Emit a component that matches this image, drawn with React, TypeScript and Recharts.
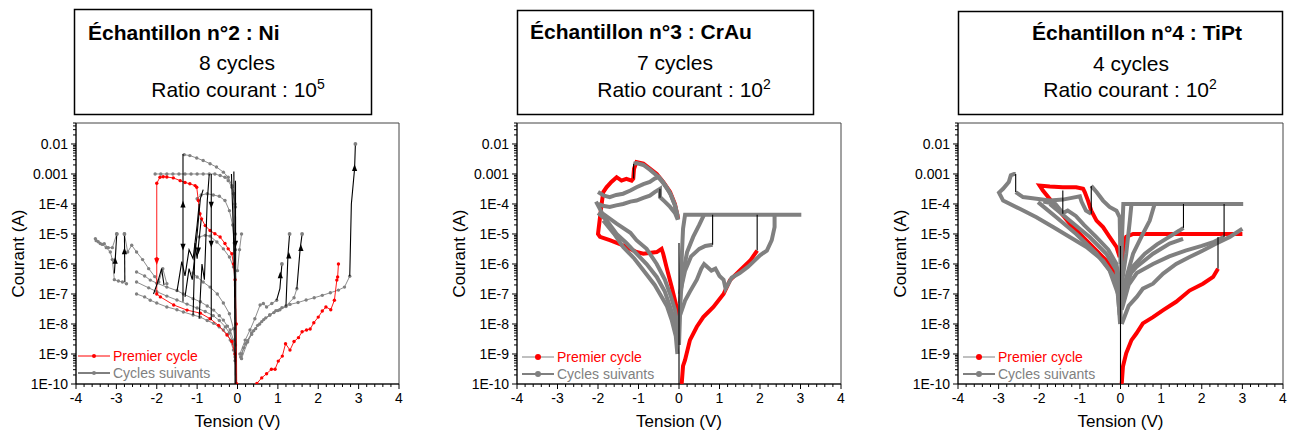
import React from 'react';
import { ScatterChart, Scatter, XAxis, YAxis, ReferenceArea, Label } from 'recharts';

type Pt = [number, number]; // [tension V, courant A]

const RED = '#ff0000';
const GREY = '#808080';
const BLACK = '#000000';
const FONT = '"Liberation Sans", Arial, sans-serif';

// axes
const X_MAJOR = [-4, -3, -2, -1, 0, 1, 2, 3, 4];
const X_LABELS = ['-4', '-3', '-2', '-1', '0', '1', '2', '3', '4'];
const Y_MAJOR = [1e-10, 1e-9, 1e-8, 1e-7, 1e-6, 1e-5, 1e-4, 1e-3, 1e-2];
const Y_LABELS = ['1E-10', '1E-9', '1E-8', '1E-7', '1E-6', '1E-5', '1E-4', '0.001', '0.01'];
const Y_DOMAIN: [number, number] = [1e-10, 0.05];

// ---------- Échantillon n°2 : Ni ----------
const niRedSet: Pt[] = [
  [0.48, 1.05e-10], [0.6, 1.6e-10], [0.72, 2.2e-10], [0.84, 3.1e-10], [0.93, 3.1e-10], [1.01, 5.8e-10],
  [1.11, 8.5e-10], [1.19, 2.2e-9], [1.3, 1.35e-9], [1.4, 2.6e-9], [1.51, 3.5e-9], [1.6, 5.5e-9],
  [1.71, 6.3e-9], [1.8, 6.8e-9], [1.89, 1.1e-8], [2.0, 1.7e-8], [2.1, 2.7e-8], [2.19, 3.7e-8],
  [2.31, 3e-8], [2.4, 6.2e-8], [2.46, 2.9e-7], [2.48, 3.7e-7], [2.5, 1e-6],
];
const niRedLoop: Pt[] = [
  [-0.02, 1e-10], [-0.03, 1e-8], [-0.06, 3e-7], [-0.1, 1e-6], [-0.14, 2.2e-6], [-0.23, 3.2e-6],
  [-0.31, 4.8e-6], [-0.43, 7.9e-6], [-0.56, 1.02e-5], [-0.68, 1.3e-5], [-0.8, 1.9e-5], [-0.89, 3.2e-5],
  [-0.93, 4.7e-5], [-0.97, 1.3e-4], [-1.01, 3.6e-4], [-1.05, 4.1e-4], [-1.18, 4.7e-4], [-1.3, 5.2e-4],
  [-1.42, 6e-4], [-1.59, 7.4e-4], [-1.75, 7.9e-4], [-1.84, 8.1e-4], [-1.92, 7.8e-4], [-2.0, 4.9e-4],
  [-2.0, 1.5e-6], [-2.0, 1e-7], [-1.91, 8e-8], [-1.58, 4.3e-8], [-1.25, 2.9e-8], [-0.92, 2.3e-8],
  [-0.68, 1.5e-8], [-0.47, 9e-9], [-0.26, 4.3e-9], [-0.14, 2.6e-9], [-0.06, 1e-9], [-0.03, 1e-10],
];
const niGreyTop: Pt[] = [
  [-2.04, 1e-3], [-1.9, 1e-3], [-1.75, 1e-3], [-1.6, 1e-3], [-1.45, 1e-3], [-1.3, 1e-3], [-1.15, 1e-3],
  [-1.0, 1e-3], [-0.85, 1e-3], [-0.7, 1e-3], [-0.56, 1e-3], [-0.43, 8.9e-4], [-0.31, 7.8e-4],
  [-0.23, 6e-4], [-0.14, 3.6e-4], [-0.1, 2.2e-4], [-0.06, 1e-4], [-0.05, 1e-5],
];
const niGreyPeak: Pt[] = [
  [-1.32, 4.4e-3], [-1.18, 4.1e-3], [-1.01, 3.4e-3], [-0.85, 2.8e-3], [-0.68, 2.2e-3], [-0.52, 1.7e-3],
  [-0.35, 1.15e-3], [-0.23, 7.8e-4], [-0.14, 4.1e-4], [-0.09, 2.2e-4], [-0.05, 8e-5], [-0.05, 3e-6],
];
const niGreyMid: Pt[] = [
  [-1.0, 1.5e-4], [-0.9, 2e-4], [-0.75, 2.2e-4], [-0.6, 2e-4], [-0.45, 1.8e-4], [-0.31, 1.3e-4],
  [-0.2, 6e-5], [-0.12, 2e-5], [-0.08, 5e-6],
];
const niGreyMid2: Pt[] = [
  [-0.95, 8e-6], [-0.8, 9e-6], [-0.68, 8.5e-6], [-0.51, 5.4e-6], [-0.35, 3.2e-6], [-0.2, 1.7e-6], [-0.1, 8e-7],
];
const niGreyLow1: Pt[] = [
  [-2.5, 5.4e-7], [-2.3, 4e-7], [-2.16, 2.9e-7], [-2.0, 2.3e-7], [-1.75, 1.7e-7], [-1.5, 1.3e-7],
  [-1.34, 1e-7], [-1.1, 7e-8], [-0.92, 5.5e-8], [-0.75, 4e-8], [-0.59, 2.9e-8], [-0.45, 1.9e-8],
  [-0.35, 1.35e-8], [-0.25, 8.5e-9], [-0.18, 6.3e-9], [-0.1, 2.9e-9], [-0.06, 1e-9],
];
const niGreyLow2: Pt[] = [
  [-2.5, 1e-7], [-2.3, 8e-8], [-2.16, 6.2e-8], [-2.0, 5e-8], [-1.75, 3.7e-8], [-1.5, 3e-8],
  [-1.34, 2.5e-8], [-1.1, 2e-8], [-0.92, 1.7e-8], [-0.75, 1.3e-8], [-0.59, 1.05e-8], [-0.45, 8e-9],
  [-0.35, 6.3e-9], [-0.25, 4.5e-9], [-0.18, 2.9e-9], [-0.1, 1.35e-9], [-0.06, 6e-10],
];
const niGreyLow3: Pt[] = [
  [-2.5, 2.5e-7], [-2.2, 1.6e-7], [-2.0, 1.2e-7], [-1.75, 8.5e-8], [-1.5, 6.3e-8], [-1.25, 4.6e-8],
  [-1.0, 3.4e-8], [-0.8, 2.6e-8], [-0.6, 1.9e-8], [-0.45, 1.3e-8], [-0.3, 8e-9], [-0.2, 5e-9],
  [-0.1, 2.2e-9], [-0.06, 8e-10],
];
const niGreyLow4: Pt[] = [
  [-1.1, 5e-7], [-1.0, 3.7e-7], [-0.85, 2.5e-7], [-0.68, 1.7e-7], [-0.5, 1e-7], [-0.35, 5e-8],
  [-0.2, 2.2e-8], [-0.1, 7e-9], [-0.05, 2e-9],
];
const niGreyFar1: Pt[] = [
  [-3.52, 7e-6], [-3.45, 5.5e-6], [-3.35, 4.5e-6], [-3.25, 3.5e-6], [-3.15, 2.5e-6], [-3.1, 1.4e-6],
  [-3.05, 3e-7], [-2.95, 2.7e-7], [-2.85, 2.5e-7], [-2.75, 2.2e-7],
];
const niGreyFar2: Pt[] = [
  [-3.5, 6e-6], [-3.4, 4.8e-6], [-3.3, 4.7e-6], [-3.2, 3.5e-6], [-3.1, 3.5e-6], [-2.99, 1e-5],
];
const niGreyFar3: Pt[] = [
  [-2.8, 1e-5], [-2.72, 2.5e-6], [-2.62, 4.2e-6], [-2.5, 2.5e-6], [-2.35, 1.4e-6], [-2.2, 7e-7],
  [-2.05, 3.8e-7], [-1.95, 2.5e-7], [-1.85, 7e-7], [-1.75, 2.2e-7],
];
const niGreyPos1: Pt[] = [
  [0.1, 1e-9], [0.15, 1.6e-9], [0.25, 2.8e-9], [0.35, 4.5e-9], [0.45, 7e-9], [0.55, 1e-8], [0.65, 1.4e-8],
  [0.8, 2e-8], [0.95, 2.8e-8], [1.1, 3.5e-8], [1.3, 4.5e-8], [1.5, 5.2e-8], [1.7, 6.3e-8], [1.9, 7.5e-8],
  [2.1, 9e-8], [2.3, 1.1e-7], [2.5, 1.35e-7], [2.65, 1.7e-7], [2.78, 3.9e-7],
];
const niGreyPos2: Pt[] = [
  [0.06, 1e-9], [0.19, 2.9e-9], [0.31, 6.3e-9], [0.43, 1.5e-8], [0.56, 4.3e-8], [0.64, 4.8e-8],
  [0.72, 3.7e-8], [0.85, 4.8e-8], [0.97, 6.2e-8],
];
const niGreyPos3: Pt[] = [
  [0.08, 8e-10], [0.2, 2.2e-9], [0.35, 5e-9], [0.5, 9e-9], [0.7, 1.6e-8], [0.9, 2.4e-8], [1.05, 3e-8], [1.2, 3.8e-8],
];
const niGreyPos4: Pt[] = [
  [0.1, 7e-10], [0.25, 2.5e-9], [0.4, 6e-9], [0.6, 1.2e-8], [0.8, 2e-8], [1.0, 2.8e-8], [1.2, 4e-8],
  [1.4, 7.5e-8], [1.47, 1.5e-7],
];
const niGreyPos5: Pt[] = [[0.0, 6e-7], [0.05, 3e-6], [0.1, 1e-5]];
const niGreyTips: Pt[] = [[2.92, 1e-2], [1.29, 1e-5], [1.6, 1e-5], [1.1, 1e-6], [-2.99, 1e-5], [-2.8, 1e-5]];
const niBlack: Pt[][] = [
  [[-3.05, 4.8e-7], [-2.99, 1e-5]],
  [[-2.79, 2.5e-7], [-2.8, 1e-5]],
  [[-1.35, 4.6e-3], [-1.35, 5.5e-8]],
  [[-0.65, 1e-3], [-0.65, 1.35e-8]],
  [[-0.04, 1e-10], [-0.05, 6e-4]],
  [[-0.06, 1e-10], [-0.09, 1.2e-3]],
  [[-1.5, 1.2e-7], [-1.38, 1.2e-6], [-1.3, 4e-7], [-1.2, 3e-6], [-1.1, 1.5e-6], [-1.0, 2e-5], [-0.95, 1e-4]],
  [[-1.3, 8e-8], [-1.2, 7e-7], [-1.12, 3e-7], [-1.0, 1e-5], [-0.92, 1.5e-4], [-0.85, 3e-4]],
  [[-1.1, 2e-8], [-1.05, 5e-6], [-1.0, 1.5e-6], [-0.9, 3e-5]],
  [[-0.95, 1.5e-8], [-0.88, 1e-6], [-0.82, 3e-7], [-0.75, 1.2e-4], [-0.7, 1e-3]],
  [[-2.08, 1e-7], [-1.98, 2.4e-7], [-1.88, 7e-7], [-1.82, 2e-7]],
  [[-0.15, 1e-3], [-0.1, 1e-5], [-0.07, 2e-7]],
  [[0.97, 6.2e-8], [1.05, 1.5e-7], [1.1, 1e-6]],
  [[1.2, 3.8e-8], [1.25, 2e-6], [1.29, 1e-5]],
  [[1.47, 1.5e-7], [1.55, 3e-6], [1.6, 1e-5]],
  [[2.78, 3.9e-7], [2.82, 1e-4], [2.9, 1.5e-3], [2.92, 1e-2]],
];
const niArrowsUp: Pt[] = [
  [-3.03, 1.2e-6], [-2.8, 2.5e-6], [1.06, 4e-7], [1.27, 1.8e-6], [1.57, 3.2e-6], [2.9, 1.5e-3], [-1.35, 9e-5],
];
const niArrowsDown: Pt[] = [[-1.35, 4e-6], [-0.65, 5e-6], [-0.05, 5e-6], [-0.65, 1e-4], [-0.97, 3e-6]];
const niRedArrows: Pt[] = [[-2.0, 1.3e-6]];

// ---------- Échantillon n°3 : CrAu ----------
const caRedReset: Pt[] = [
  [-0.02, 3.2e-5], [-0.1, 1e-4], [-0.22, 2.5e-4], [-0.39, 5.4e-4], [-0.55, 1e-3], [-0.72, 1.5e-3],
  [-0.88, 2.2e-3], [-1.05, 2.5e-3], [-1.11, 1.5e-3], [-1.13, 7e-4], [-1.17, 6e-4], [-1.3, 6.9e-4],
  [-1.42, 6e-4], [-1.54, 7.8e-4], [-1.67, 5.4e-4], [-1.79, 3.6e-4], [-1.87, 2.5e-4], [-1.91, 1e-4],
  [-1.95, 3.6e-5], [-2.0, 1e-5], [-1.95, 8e-6], [-1.71, 6.2e-6], [-1.38, 4.2e-6], [-1.05, 2.5e-6],
  [-0.88, 2.2e-6], [-0.55, 2.5e-6], [-0.43, 3.2e-6], [-0.39, 2.2e-6], [-0.31, 8e-7], [-0.18, 1.7e-7],
  [-0.06, 3.7e-8], [-0.02, 1.35e-8],
];
const caRedSet: Pt[] = [
  [0.066, 1e-10], [0.1, 4e-10], [0.15, 6.3e-10], [0.27, 2.9e-9], [0.44, 8.1e-9], [0.6, 1.7e-8],
  [0.85, 3.7e-8], [1.1, 1e-7], [1.26, 2.9e-7], [1.51, 6.2e-7], [1.76, 1.3e-6], [1.93, 2.8e-6],
];
const caGreyTop: Pt[] = [
  [-0.02, 3e-5], [-0.1, 9e-5], [-0.22, 2.3e-4], [-0.39, 5e-4], [-0.55, 9e-4], [-0.72, 1.4e-3],
  [-0.88, 2e-3], [-1.05, 2.3e-3], [-1.12, 2.2e-3],
];
const caGreyUp1: Pt[] = [
  [-2.0, 2.5e-4], [-1.85, 1.9e-4], [-1.71, 1.7e-4], [-1.55, 2e-4], [-1.38, 2.2e-4], [-1.2, 2.8e-4],
  [-1.05, 3.6e-4], [-0.88, 4.6e-4], [-0.72, 5.4e-4], [-0.6, 7e-4], [-0.5, 8e-4], [-0.4, 5.5e-4],
  [-0.3, 3.5e-4], [-0.2, 2e-4], [-0.1, 9e-5], [-0.03, 4e-5],
];
const caGreyUp2: Pt[] = [
  [-2.0, 1e-4], [-1.85, 8.5e-5], [-1.71, 7.9e-5], [-1.55, 9e-5], [-1.38, 1e-4], [-1.2, 1.2e-4],
  [-1.05, 1.3e-4], [-0.88, 1.6e-4], [-0.72, 1.9e-4], [-0.6, 2.5e-4], [-0.47, 3.2e-4], [-0.47, 1.7e-4],
  [-0.35, 1.2e-4], [-0.22, 8e-5], [-0.1, 5e-5], [-0.03, 3e-5],
];
const caGreyLow1: Pt[] = [
  [-2.05, 1.2e-4], [-1.9, 5e-5], [-1.54, 2.2e-5], [-1.2, 1.1e-5], [-1.05, 6.2e-6], [-0.8, 3.2e-6],
  [-0.55, 1e-6], [-0.35, 3e-7], [-0.22, 1e-7], [-0.1, 3e-8], [-0.06, 1.35e-8], [0.0, 2e-9],
];
const caGreyLow2: Pt[] = [
  [-2.0, 5e-5], [-1.8, 3e-5], [-1.54, 1e-5], [-1.3, 5e-6], [-1.05, 2.2e-6], [-0.8, 1e-6],
  [-0.55, 3.7e-7], [-0.35, 1.2e-7], [-0.22, 3.7e-8], [-0.1, 1.2e-8], [-0.02, 3.7e-9],
];
const caGreyLow3: Pt[] = [
  [-1.87, 2.8e-5], [-1.6, 1e-5], [-1.38, 3.7e-6], [-1.1, 1.5e-6], [-0.88, 6.2e-7], [-0.6, 2e-7],
  [-0.47, 1e-7], [-0.3, 4e-8], [-0.18, 1.35e-8], [-0.08, 4e-9], [-0.04, 1e-9],
];
const caGreySet0: Pt[] = [[0.0, 2e-9], [0.03, 3e-8], [0.06, 1e-6], [0.1, 1.5e-5], [0.15, 4.4e-5], [3.02, 4.4e-5]];
const caGreySet1: Pt[] = [[0.02, 5e-8], [0.1, 5e-7], [0.2, 2.5e-6], [0.35, 8e-6], [0.5, 2e-5], [0.62, 4.4e-5]];
const caGreySet2: Pt[] = [[0.02, 1e-7], [0.15, 6e-7], [0.3, 1.8e-6], [0.5, 3.2e-6], [0.65, 4e-6], [0.83, 4.4e-6]];
const caGreySet3: Pt[] = [
  [0.03, 2e-8], [0.15, 6e-8], [0.27, 1.2e-7], [0.44, 3e-7], [0.55, 7e-7], [0.62, 1e-6], [0.7, 8e-7],
  [0.8, 6e-7], [0.9, 7e-7], [1.0, 4e-7], [1.1, 3e-7], [1.15, 1.5e-7], [1.3, 3.5e-7], [1.5, 5e-7],
  [1.7, 8e-7], [1.84, 1.2e-6], [2.0, 1.95e-6], [2.17, 2.8e-6], [2.29, 6.2e-6], [2.36, 1.7e-5], [2.36, 4.4e-5],
];
const caBlack: Pt[][] = [
  [[0.0, 1e-10], [0.0, 5e-6]],
  [[0.83, 4.4e-6], [0.83, 4.4e-5]],
  [[1.93, 2.8e-6], [1.93, 4.4e-5]],
  [[-1.12, 2.2e-3], [-1.12, 7e-4]],
  [[-0.47, 3.2e-4], [-0.47, 1.6e-4]],
];

// ---------- Échantillon n°4 : TiPt ----------
const tpRedSet: Pt[] = [
  [0.03, 1e-10], [0.06, 3.8e-10], [0.14, 1.05e-9], [0.27, 2.9e-9], [0.39, 4.8e-9], [0.55, 1.05e-8],
  [0.8, 1.7e-8], [1.05, 2.9e-8], [1.37, 5.5e-8], [1.7, 1.3e-7], [2.03, 2.2e-7], [2.28, 3.7e-7], [2.4, 6.9e-7],
];
const tpRedComp: Pt[] = [[0.02, 2e-7], [0.06, 2.8e-6], [0.1, 6e-6], [0.14, 8e-6], [0.31, 1e-5], [3.0, 1e-5]];
const tpRedReset: Pt[] = [
  [-0.02, 1.7e-6], [-0.1, 3.7e-6], [-0.27, 8e-6], [-0.43, 1.7e-5], [-0.59, 2.8e-5], [-0.72, 6e-5],
  [-0.8, 1.3e-4], [-0.88, 2.5e-4], [-0.92, 3.2e-4], [-1.09, 3.6e-4], [-1.42, 3.6e-4], [-1.74, 3.8e-4],
  [-1.99, 4.1e-4], [-1.91, 2.8e-4], [-1.58, 7.9e-5], [-1.25, 2.2e-5], [-0.92, 7.9e-6], [-0.59, 2.8e-6],
  [-0.35, 1.3e-6], [-0.18, 6.2e-7], [-0.06, 2e-7],
];
const tpGreySet0: Pt[] = [[0.0, 1e-8], [0.02, 1e-6], [0.04, 1e-5], [0.07, 1e-4], [3.02, 1e-4]];
const tpGreySet1: Pt[] = [[0.02, 1.7e-7], [0.14, 2.2e-6], [0.23, 2.8e-5], [0.27, 1e-4]];
const tpGreySet2: Pt[] = [[0.03, 1e-7], [0.31, 2.2e-6], [0.55, 1e-5], [0.72, 2.8e-5], [0.84, 1e-4]];
const tpGreySet3: Pt[] = [
  [0.05, 6e-8], [0.3, 8e-7], [0.6, 2.2e-6], [0.9, 4.5e-6], [1.2, 8e-6], [1.45, 1.3e-5], [1.55, 1.6e-5],
];
const tpGreySet4: Pt[] = [[0.04, 5e-8], [0.2, 4e-7], [0.39, 7.9e-7], [0.8, 2.2e-6], [1.21, 4.8e-6], [1.54, 6.9e-6]];
const tpGreySet5: Pt[] = [
  [0.03, 3e-8], [0.2, 2e-7], [0.4, 5e-7], [0.8, 1e-6], [1.2, 1.8e-6], [1.6, 2.8e-6], [2.0, 4e-6],
  [2.3, 5.5e-6], [2.55, 8e-6],
];
const tpGreySet6: Pt[] = [
  [0.03, 1e-8], [0.2, 4e-8], [0.4, 8e-8], [0.55, 1.5e-7], [0.8, 2.2e-7], [1.05, 4.8e-7], [1.37, 1e-6],
  [1.7, 1.7e-6], [2.03, 2.8e-6], [2.36, 4.8e-6], [2.69, 8e-6], [3.0, 1.5e-5],
];
const tpGreyOuter: Pt[] = [
  [-0.02, 2e-8], [-0.1, 2.9e-7], [-0.43, 1.3e-6], [-0.84, 3.7e-6], [-1.25, 7.9e-6], [-1.66, 1.7e-5],
  [-2.07, 3.6e-5], [-2.48, 6.9e-5], [-2.89, 1.3e-4], [-2.99, 2.4e-4], [-2.89, 3.2e-4], [-2.75, 5.4e-4],
  [-2.7, 9e-4], [-2.62, 1e-3], [-2.58, 1e-3],
];
const tpGreyPlat: Pt[] = [
  [-2.58, 2.5e-4], [-2.4, 1.7e-4], [-2.07, 1.5e-4], [-1.74, 1.3e-4], [-1.42, 1.4e-4], [-1.2, 1.6e-4],
  [-1.0, 1.8e-4], [-0.96, 1.2e-4], [-0.85, 6e-5], [-0.72, 4.7e-5],
];
const tpGreyTopNeg: Pt[] = [
  [-0.72, 4e-4], [-0.59, 2.5e-4], [-0.43, 1.3e-4], [-0.27, 8e-5], [-0.1, 6e-5], [-0.02, 3.6e-5], [0.0, 1e-6],
];
const tpGreyMid1: Pt[] = [
  [-2.03, 1.15e-4], [-1.58, 3.6e-5], [-1.09, 1e-5], [-0.59, 2.2e-6], [-0.27, 6.2e-7], [-0.06, 1e-7], [-0.01, 1e-8],
];
const tpGreyMid2: Pt[] = [
  [-1.74, 1e-4], [-1.25, 2.8e-5], [-0.76, 7.9e-6], [-0.35, 2.2e-6], [-0.1, 6.2e-7], [-0.02, 5e-8],
];
const tpGreyMid3: Pt[] = [
  [-1.9, 1.2e-4], [-1.6, 1e-4], [-1.42, 5e-5], [-1.3, 6e-5], [-1.1, 4e-5], [-0.9, 2e-5], [-0.6, 8e-6],
  [-0.3, 3e-6], [-0.1, 1e-6], [-0.02, 2e-7],
];
const tpBlack: Pt[][] = [
  [[0.0, 1e-10], [0.0, 4e-6]],
  [[-2.58, 1e-3], [-2.58, 2.5e-4]],
  [[-1.42, 2.8e-4], [-1.42, 4.7e-5]],
  [[-0.72, 4e-4], [-0.72, 4.7e-5]],
  [[1.55, 1.6e-5], [1.55, 1e-4]],
  [[2.55, 8e-6], [2.55, 1e-4]],
  [[2.4, 6.9e-7], [2.4, 8e-6]],
];

// ---------- helpers ----------
const xTicks: number[] = [];
for (let k = -20; k <= 20; k++) xTicks.push(Math.round(k * 2) / 10);
const yTicks: number[] = [];
Y_MAJOR.forEach((d) => {
  for (let m = 1; m <= 9; m++) if (m * d <= Y_DOMAIN[1] * 1.0001) yTicks.push(m * d);
});

const pts = (arr: Pt[]) => arr.map(([v, i]) => ({ v, i }));

const noDot = () => <g />;
const dot = (r: number, fill: string) => (p: any) =>
  p.cx == null ? <g /> : <circle cx={p.cx} cy={p.cy} r={r} fill={fill} />;
const arrow = (up: boolean, fill: string) => (p: any) => {
  const { cx, cy } = p;
  if (cx == null) return <g />;
  const h = 4.5;
  const w = 2.6;
  const pts2 = up
    ? `${cx},${cy - h} ${cx - w},${cy + h / 2} ${cx + w},${cy + h / 2}`
    : `${cx},${cy + h} ${cx - w},${cy - h / 2} ${cx + w},${cy - h / 2}`;
  return <polygon points={pts2} fill={fill} />;
};

function XTick({ x, y, payload }: any) {
  const idx = X_MAJOR.findIndex((t) => Math.abs(t - payload.value) < 1e-6);
  const major = idx >= 0;
  return (
    <g>
      <line x1={x} x2={x} y1={y} y2={y + (major ? 5 : 3)} stroke={BLACK} />
      {major && (
        <text x={x} y={y + 19} textAnchor="middle" fontSize={14} fontFamily={FONT} fill={BLACK}>
          {X_LABELS[idx]}
        </text>
      )}
    </g>
  );
}

function YTick({ x, y, payload }: any) {
  const idx = Y_MAJOR.findIndex((t) => Math.abs(t - payload.value) / t < 1e-6);
  const major = idx >= 0;
  return (
    <g>
      <line x1={x} x2={x - (major ? 5 : 3)} y1={y} y2={y} stroke={BLACK} />
      {major && (
        <text x={x - 8} y={y} dy="0.36em" textAnchor="end" fontSize={14} fontFamily={FONT} fill={BLACK}>
          {Y_LABELS[idx]}
        </text>
      )}
    </g>
  );
}

type Series = { data: Pt[]; stroke: string; width: number; shape: any; line?: boolean };

function LegendBox({ left, top, firstLine, dotR }: { left: number; top: number; firstLine: string; dotR: number }) {
  return (
    <svg width={160} height={36} style={{ position: 'absolute', left, top, display: 'block' }}>
      <line x1={0} x2={32} y1={8} y2={8} stroke={firstLine} strokeWidth={1} />
      <circle cx={16} cy={8} r={dotR} fill={RED} />
      <text x={35} y={8} dy="0.35em" fontSize={14} fontFamily={FONT} fill={RED}>Premier cycle</text>
      <line x1={0} x2={32} y1={25} y2={25} stroke={BLACK} strokeWidth={1} />
      <circle cx={16} cy={25} r={dotR} fill={GREY} />
      <text x={35} y={25} dy="0.35em" fontSize={14} fontFamily={FONT} fill={GREY}>Cycles suivants</text>
    </svg>
  );
}

function Panel({ left, plotWidth, series, legendLine, legendDot }: {
  left: number; plotWidth: number; series: Series[]; legendLine: string; legendDot: number;
}) {
  const width = plotWidth + 76 + 6;
  const height = 315;
  return (
    <div style={{ position: 'absolute', left, top: 118, width, height }}>
      <ScatterChart width={width} height={height} margin={{ top: 5, right: 6, bottom: 0, left: 0 }}>
        <XAxis
          dataKey="v" type="number" domain={[-4, 4]} ticks={xTicks} interval={0} allowDataOverflow
          tick={<XTick />} tickSize={0} tickMargin={0} tickLine={false} height={49}
          axisLine={{ stroke: BLACK }}
        >
          <Label
            content={(p: any) => (
              <text x={p.viewBox.x + p.viewBox.width / 2} y={p.viewBox.y + 43} textAnchor="middle"
                fontSize={17} fontFamily={FONT} fill={BLACK}>Tension (V)</text>
            )}
          />
        </XAxis>
        <YAxis
          dataKey="i" type="number" scale="log" domain={Y_DOMAIN} ticks={yTicks} interval={0} allowDataOverflow
          tick={<YTick />} tickSize={0} tickMargin={0} tickLine={false} width={76}
          axisLine={{ stroke: BLACK }}
        >
          <Label
            content={(p: any) => {
              const cx = p.viewBox.x + p.viewBox.width - 58;
              const cy = p.viewBox.y + p.viewBox.height / 2;
              return (
                <text x={cx} y={cy} dy="0.35em" textAnchor="middle" transform={`rotate(-90, ${cx}, ${cy})`}
                  fontSize={17} fontFamily={FONT} fill={BLACK}>Courant (A)</text>
              );
            }}
          />
        </YAxis>
        <ReferenceArea x1={-4} x2={4} y1={Y_DOMAIN[0]} y2={Y_DOMAIN[1]} fill="none" stroke="#444" strokeWidth={1} />
        {series.map((s, k) => (
          <Scatter
            key={k}
            data={pts(s.data)}
            line={s.line === false ? false : { stroke: s.stroke, strokeWidth: s.width }}
            lineJointType="linear"
            shape={s.shape}
            isAnimationActive={false}
          />
        ))}
      </ScatterChart>
      <LegendBox left={left === 0 ? 78 : 81} top={left === 0 ? 230 : 231} firstLine={legendLine} dotR={legendDot} />
    </div>
  );
}

const niDots = (d: Pt[], color: string): Series => ({ data: d, stroke: color, width: 0.9, shape: dot(1.7, color) });
const thin = (d: Pt[]): Series => ({ data: d, stroke: BLACK, width: 1.1, shape: noDot });
const band = (d: Pt[], color: string, w = 4): Series => ({ data: d, stroke: color, width: w, shape: noDot });

const niSeries: Series[] = [
  ...[niGreyTop, niGreyPeak, niGreyMid, niGreyMid2, niGreyLow1, niGreyLow2, niGreyLow3, niGreyLow4,
    niGreyFar1, niGreyFar2, niGreyFar3, niGreyPos1, niGreyPos2, niGreyPos3, niGreyPos4, niGreyPos5]
    .map((d) => niDots(d, GREY)),
  niDots(niRedLoop, RED),
  niDots(niRedSet, RED),
  ...niBlack.map(thin),
  { data: niGreyTips, stroke: GREY, width: 0, shape: dot(1.9, GREY), line: false },
  { data: niArrowsUp, stroke: BLACK, width: 0, shape: arrow(true, BLACK), line: false },
  { data: niArrowsDown, stroke: BLACK, width: 0, shape: arrow(false, BLACK), line: false },
  { data: niRedArrows, stroke: RED, width: 0, shape: arrow(false, RED), line: false },
];

const caSeries: Series[] = [
  band(caRedReset, RED, 4),
  band(caRedSet, RED, 4),
  ...[caGreyTop, caGreyUp1, caGreyUp2, caGreyLow1, caGreyLow2, caGreyLow3, caGreySet0, caGreySet1,
    caGreySet2, caGreySet3].map((d) => band(d, GREY)),
  ...caBlack.map(thin),
];

const tpSeries: Series[] = [
  band(tpRedSet, RED, 4),
  band(tpRedComp, RED, 4),
  band(tpRedReset, RED, 4),
  ...[tpGreySet0, tpGreySet1, tpGreySet2, tpGreySet3, tpGreySet4, tpGreySet5, tpGreySet6, tpGreyOuter,
    tpGreyPlat, tpGreyTopNeg, tpGreyMid1, tpGreyMid2, tpGreyMid3].map((d) => band(d, GREY)),
  ...tpBlack.map(thin),
];

function Titles() {
  const t = { fontFamily: FONT, fontSize: 21, fill: BLACK } as const;
  return (
    <svg width={1289} height={118} style={{ position: 'absolute', left: 0, top: 0 }}>
      <rect x={74.5} y={9.5} width={297} height={105} fill="#fff" stroke={BLACK} strokeWidth={1.5} />
      <text x={88} y={40} {...t} fontWeight="bold">Échantillon n°2 : Ni</text>
      <text x={237} y={70} {...t} textAnchor="middle">8 cycles</text>
      <text x={238} y={97} {...t} textAnchor="middle">Ratio courant : 10<tspan fontSize={14} dy={-8}>5</tspan></text>

      <rect x={517.5} y={10.5} width={296} height={104} fill="#fff" stroke={BLACK} strokeWidth={1.5} />
      <text x={530} y={39} {...t} fontWeight="bold">Échantillon n°3 : CrAu</text>
      <text x={675} y={70} {...t} textAnchor="middle">7 cycles</text>
      <text x={684} y={97} {...t} textAnchor="middle">Ratio courant : 10<tspan fontSize={14} dy={-8}>2</tspan></text>

      <rect x={958.5} y={11.5} width={324} height={103} fill="#fff" stroke={BLACK} strokeWidth={1.5} />
      <text x={1137} y={40} {...t} fontWeight="bold" textAnchor="middle">Échantillon n°4 : TiPt</text>
      <text x={1131} y={71} {...t} textAnchor="middle">4 cycles</text>
      <text x={1130} y={97} {...t} textAnchor="middle">Ratio courant : 10<tspan fontSize={14} dy={-8}>2</tspan></text>
    </svg>
  );
}

export default function App() {
  return (
    <div style={{ position: 'absolute', left: 0, top: 0, width: 1289, height: 433, background: '#fff', overflow: 'hidden' }}>
      <Titles />
      <Panel left={0} plotWidth={323} series={niSeries} legendLine={RED} legendDot={2} />
      <Panel left={441} plotWidth={324} series={caSeries} legendLine={GREY} legendDot={3} />
      <Panel left={882} plotWidth={325} series={tpSeries} legendLine={GREY} legendDot={3} />
    </div>
  );
}
